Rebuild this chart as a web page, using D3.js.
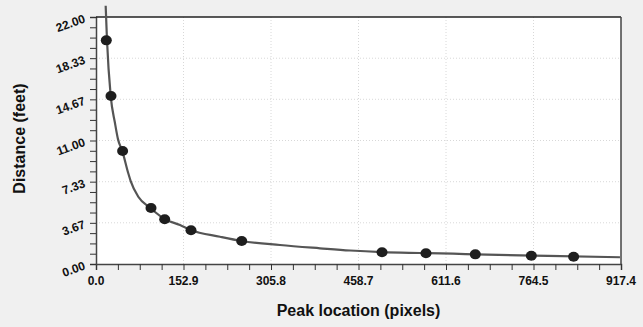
<!DOCTYPE html>
<html>
<head>
<meta charset="utf-8">
<script src="https://cdn.jsdelivr.net/npm/d3@7"></script>
<style>
  html, body { margin: 0; padding: 0; background: #f0f0f0; }
  svg text { font-family: "Liberation Sans", Arial, sans-serif; font-weight: bold; fill: #111; }
</style>
</head>
<body>
<div id="chart"></div>
<script>
// measured peaks
const peakX = [18.0, 26.2, 46.5, 96.1, 120.0, 166.0, 254.6, 499.8, 576.6, 662.8, 760.7, 834.6];
const distY = [19.92, 14.96, 10.06, 4.99, 3.98, 3.00, 2.05, 1.04, 0.95, 0.86, 0.74, 0.65];

// fitted curve
const fitX = [16.9, 19.2, 25.7, 33.0, 38.5, 46.0, 56.4, 60.6, 73.9, 94.4, 120.0, 146.8, 165.5, 216.7, 254.6, 321.5, 391.4, 443.8, 499.8, 566.0, 623.8, 664.0, 789.8, 915.6];
const fitY = [23.0, 19.95, 14.96, 12.6, 11.1, 10.06, 8.08, 7.39, 5.99, 5.01, 4.0, 3.47, 3.03, 2.43, 2.05, 1.69, 1.40, 1.20, 1.06, 0.98, 0.92, 0.86, 0.72, 0.60];

const xTicks = [0, 152.9, 305.8, 458.7, 611.6, 764.5, 917.4];
const yTicks = [0, 3.67, 7.33, 11.0, 14.67, 18.33, 22.0];

const W = 643, H = 327;
const m = {left: 96, right: 22, top: 17, bottom: 63};

const svg = d3.select("#chart").append("svg")
    .attr("width", W).attr("height", H);

const x = d3.scaleLinear().domain([0, 917.4]).range([m.left, W - m.right]);
const y = d3.scaleLinear().domain([0, 22]).range([H - m.bottom, m.top]);

/// plot area
svg.append("rect")
    .attr("x", x(0)).attr("y", y(22))
    .attr("width", x(917.4) - x(0)).attr("height", y(0) - y(22))
    .attr("fill", "#fff");

/// grid
svg.append("g").selectAll("line")
    .data(xTicks.slice(1, -1)).enter().append("line")
    .attr("x1", d => x(d)).attr("x2", d => x(d))
    .attr("y1", y(0)).attr("y2", y(22))
    .attr("stroke", "#d8d8d8").attr("stroke-dasharray", "1,2");
svg.append("g").selectAll("line")
    .data(yTicks.slice(1, -1)).enter().append("line")
    .attr("y1", d => y(d)).attr("y2", d => y(d))
    .attr("x1", x(0)).attr("x2", x(917.4))
    .attr("stroke", "#d8d8d8").attr("stroke-dasharray", "1,2");

/// minor ticks: 4 steps per major
const xMinor = d3.range(0, 25).map(i => i * 917.4 / 24);
const yMinor = d3.range(0, 25).map(i => i * 22 / 24);

const xAxis = d3.axisBottom(x).tickValues(xMinor).tickSize(6).tickFormat("");
const yAxis = d3.axisLeft(y).tickValues(yMinor).tickSize(6).tickFormat("");

const gx = svg.append("g").attr("transform", "translate(0," + y(0) + ")").call(xAxis);
const gy = svg.append("g").attr("transform", "translate(" + x(0) + ",0)").call(yAxis);
[gx, gy].forEach(g => {
  g.select(".domain").attr("stroke", "#444").attr("stroke-width", 1.5);
  g.selectAll(".tick line").attr("stroke", "#333");
});

/// border top and right
svg.append("line").attr("x1", x(0)).attr("x2", x(917.4)).attr("y1", y(22)).attr("y2", y(22))
    .attr("stroke", "#222").attr("stroke-width", 1.5);
svg.append("line").attr("x1", x(917.4)).attr("x2", x(917.4)).attr("y1", y(22)).attr("y2", y(0))
    .attr("stroke", "#444").attr("stroke-width", 1.5);

/// tick labels
svg.append("g").selectAll("text")
    .data(xTicks).enter().append("text")
    .attr("x", d => x(d)).attr("y", y(0) + 21)
    .attr("text-anchor", "middle")
    .style("font-size", "12px")
    .text(d => d.toFixed(1));

svg.append("g").selectAll("text")
    .data(yTicks).enter().append("text")
    .attr("transform", d => "translate(" + (x(0) - 10) + "," + (y(d) + 5) + ") rotate(-20)")
    .attr("text-anchor", "end")
    .style("font-size", "12px")
    .text(d => d.toFixed(2));

/// axis titles
svg.append("text")
    .attr("x", (x(0) + x(917.4)) / 2).attr("y", 316)
    .attr("text-anchor", "middle")
    .style("font-size", "16px")
    .text("Peak location (pixels)");

svg.append("text")
    .attr("transform", "translate(25," + ((y(0) + y(22)) / 2 - 2) + ") rotate(-90)")
    .attr("text-anchor", "middle")
    .style("font-size", "16px")
    .text("Distance (feet)");

/// fit line
const fit = fitX.map((d, i) => ({x: d, y: fitY[i]}));
const line = d3.line().x(d => x(d.x)).y(d => y(d.y)).curve(d3.curveMonotoneX);
svg.append("path").datum(fit)
    .attr("d", line)
    .attr("fill", "none").attr("stroke", "#555").attr("stroke-width", 2.2);

/// points
const pts = peakX.map((d, i) => ({x: d, y: distY[i]}));
svg.append("g").selectAll("ellipse")
    .data(pts).enter().append("ellipse")
    .attr("cx", d => x(d.x)).attr("cy", d => y(d.y))
    .attr("rx", 5.5).attr("ry", 5)
    .attr("fill", "#1e1e1e");
</script>
</body>
</html>
